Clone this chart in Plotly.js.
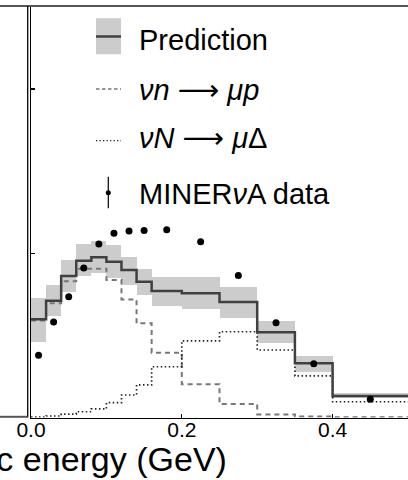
<!DOCTYPE html>
<html>
<head>
<meta charset="utf-8">
<script src="https://cdn.plot.ly/plotly-3.0.1.min.js"></script>
<style>
  html, body { margin: 0; padding: 0; background: #fff; }
  #chart { width: 408px; height: 480px; }
</style>
</head>
<body>
<div id="chart"></div>
<script>
// Bin edges of the kinetic-energy histogram (GeV)
const binEdges = [0, 0.02, 0.04, 0.06, 0.08, 0.10, 0.12, 0.14, 0.16, 0.20, 0.25, 0.30, 0.35, 0.40, 0.50];

// Total prediction per bin and its uncertainty band
const prediction = [0.598, 0.711, 0.861, 0.954, 0.975, 0.948, 0.898, 0.827, 0.770, 0.756, 0.703, 0.519, 0.330, 0.131];
const predictionLow = [0.460, 0.618, 0.764, 0.861, 0.880, 0.849, 0.806, 0.746, 0.679, 0.660, 0.606, 0.453, 0.277, 0.119];
const predictionHigh = [0.727, 0.806, 0.959, 1.056, 1.074, 1.050, 0.977, 0.904, 0.855, 0.855, 0.794, 0.587, 0.374, 0.149];

// Individual channels
const quasiElastic = [0.590, 0.695, 0.829, 0.906, 0.906, 0.837, 0.719, 0.573, 0.394, 0.203, 0.082, 0.019, 0.006, 0.002];
const deltaProduction = [0.003, 0.009, 0.021, 0.035, 0.052, 0.090, 0.137, 0.198, 0.309, 0.467, 0.522, 0.411, 0.253, 0.096];

// Measured points
const dataX = [0.01, 0.03, 0.05, 0.07, 0.09, 0.11, 0.13, 0.15, 0.18, 0.225, 0.275, 0.325, 0.375, 0.45];
const dataY = [0.379, 0.582, 0.735, 0.910, 1.056, 1.121, 1.135, 1.139, 1.143, 1.070, 0.865, 0.577, 0.327, 0.111];

// Axis ticks
const xTicks = [0, 0.2, 0.4];
const xTickText = ['0.0', '0.2', '0.4'];
const yTicks = [0, 1, 2];

const W = 408, H = 480;
const px = x => x / W;
const py = y => 1 - y / H;

const centers = binEdges.slice(0, -1).map((e, i) => (e + binEdges[i + 1]) / 2);
const widths = binEdges.slice(0, -1).map((e, i) => binEdges[i + 1] - e);
const stepY = v => v.concat([v[v.length - 1]]);

const traces = [
  {
    type: 'bar', x: centers, width: widths,
    base: predictionLow, y: predictionHigh.map((h, i) => h - predictionLow[i]),
    marker: { color: '#cccccc', line: { width: 0 } },
    hoverinfo: 'skip', showlegend: false
  },
  {
    type: 'scatter', mode: 'lines', x: binEdges, y: stepY(quasiElastic),
    line: { shape: 'hv', color: '#777777', width: 2, dash: '5px,4px' },
    showlegend: false
  },
  {
    type: 'scatter', mode: 'lines', x: binEdges, y: stepY(deltaProduction),
    line: { shape: 'hv', color: '#222222', width: 1.7, dash: '1.5px,2.5px' },
    showlegend: false
  },
  {
    type: 'scatter', mode: 'lines', x: binEdges, y: stepY(prediction),
    line: { shape: 'hv', color: '#404040', width: 2.5 },
    showlegend: false
  },
  {
    type: 'scatter', mode: 'markers', x: dataX, y: dataY,
    marker: { color: '#000', size: 7 },
    showlegend: false
  }
];

const hline = (x0, x1, y, color, width, dash) => ({
  type: 'line', xref: 'paper', yref: 'paper',
  x0: px(x0), x1: px(x1), y0: py(y), y1: py(y),
  line: { color, width, dash: dash || 'solid' }
});
const vline = (x, y0, y1, color, width) => ({
  type: 'line', xref: 'paper', yref: 'paper',
  x0: px(x), x1: px(x), y0: py(y0), y1: py(y1),
  line: { color, width }
});

const shapes = [
  // frame of the neighbouring panel and shared top border
  hline(0, W, 6, '#555555', 2),
  vline(27.7, 6, 417.5, '#000000', 1.3),
  hline(0, 27.7, 416.8, '#555555', 2),
  // legend keys
  { type: 'rect', xref: 'paper', yref: 'paper', x0: px(96), x1: px(121), y0: py(54.3), y1: py(18.3),
    fillcolor: '#cccccc', line: { width: 0 } },
  hline(96, 121, 36.5, '#404040', 2.5),
  hline(96, 121, 89, '#777777', 1.5, '3.5px,2.5px'),
  hline(96, 121, 140.7, '#222222', 1.3, '1.3px,2.2px'),
  vline(108.3, 176.7, 208.3, '#000000', 1.2),
  { type: 'circle', xref: 'paper', yref: 'paper', x0: px(105.8), x1: px(110.8), y0: py(195.2), y1: py(190.2),
    fillcolor: '#000000', line: { width: 0 } }
];

const legendFont = { family: 'Liberation Sans, Arial, sans-serif', size: 29, color: '#000' };
const label = (text, x, y) => ({
  text, xref: 'paper', yref: 'paper', x: px(x), y: py(y),
  xanchor: 'left', yanchor: 'middle', showarrow: false, font: legendFont
});
const arrow = '<span style="font-family:\'DejaVu Sans\'">⟶</span>';

const annotations = [
  label('Prediction', 137, 40),
  label('<i>νn</i> ' + arrow + ' <i>μp</i>', 137, 90),
  label('<i>νN</i> ' + arrow + ' <i>μ</i>Δ', 137, 138),
  label('MINER<i>ν</i>A data', 137, 194),
  { text: 'kinetic energy (GeV)', xref: 'paper', yref: 'paper', x: px(229), y: py(459),
    xanchor: 'right', yanchor: 'middle', showarrow: false,
    font: { family: 'Liberation Sans, Arial, sans-serif', size: 34, color: '#000' } }
];

const layout = {
  width: W, height: H,
  margin: { l: 0, r: 0, t: 0, b: 0 },
  paper_bgcolor: '#fff', plot_bgcolor: '#fff',
  font: { family: 'Liberation Sans, Arial, sans-serif', color: '#000' },
  showlegend: false,
  bargap: 0,
  xaxis: {
    domain: [px(31), 1], range: [0, 0.5],
    showline: true, linecolor: '#000', linewidth: 1.6,
    ticks: 'inside', ticklen: 4, tickwidth: 1.2, tickcolor: '#000',
    tickvals: xTicks, ticktext: xTickText,
    tickfont: { size: 21, color: '#000' },
    ticklabelstandoff: -7,
    showgrid: false, zeroline: false
  },
  yaxis: {
    domain: [py(417.5), py(6)], range: [0, 2.505],
    showline: true, linecolor: '#000', linewidth: 1.5,
    ticks: 'inside', ticklen: 4, tickwidth: 1.2, tickcolor: '#000',
    tickvals: yTicks, showticklabels: false,
    showgrid: false, zeroline: false
  },
  shapes, annotations
};

Plotly.newPlot('chart', traces, layout, { staticPlot: true, displayModeBar: false });
</script>
</body>
</html>
